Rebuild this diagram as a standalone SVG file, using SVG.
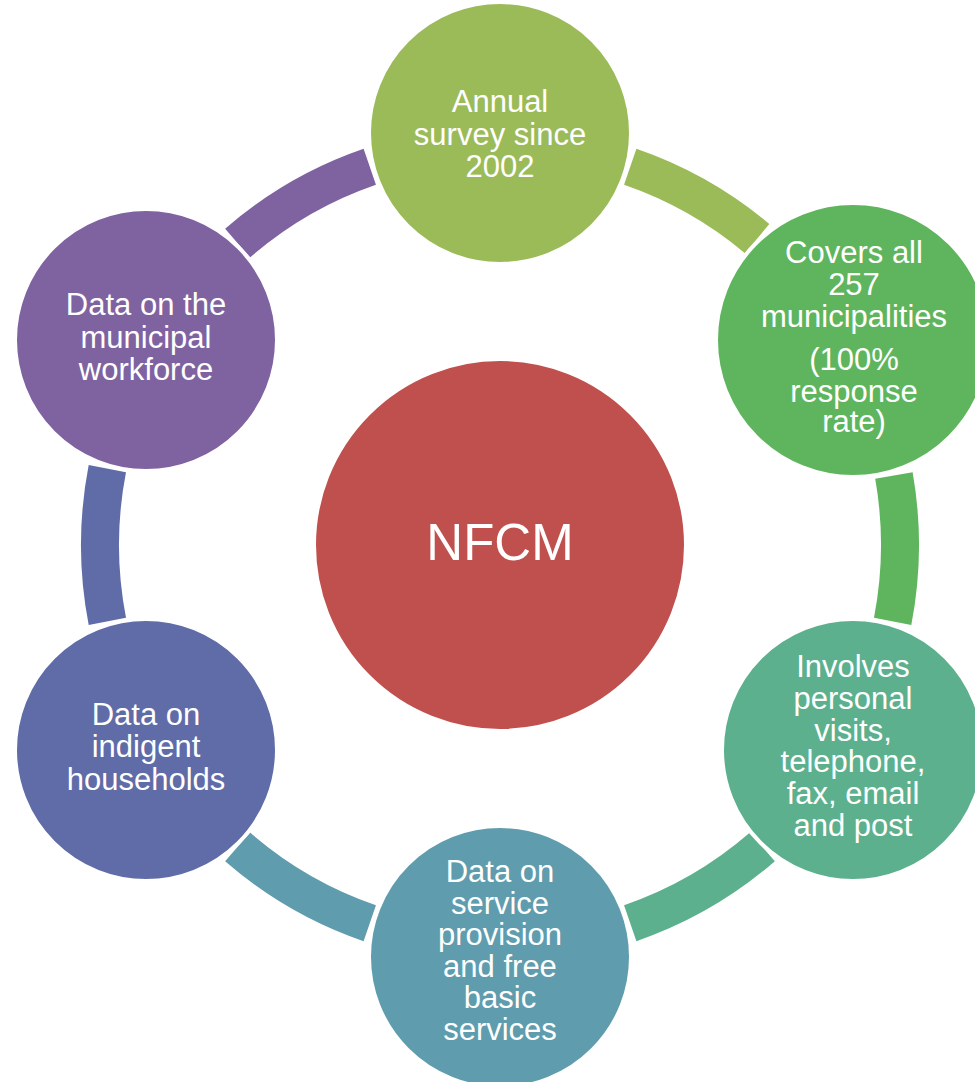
<svg xmlns="http://www.w3.org/2000/svg" width="975" height="1082" viewBox="0 0 975 1082">
<style>
.arc{fill:none;stroke-width:38;stroke-linecap:butt}
.node{stroke:#FFFFFF;stroke-width:4}
.t{font-family:"Liberation Sans",Arial,sans-serif;font-size:31px;fill:#FFFFFF;text-anchor:middle}
.big{font-family:"Liberation Sans",Arial,sans-serif;font-size:51px;fill:#FFFFFF;text-anchor:middle}
</style>
<rect width="975" height="1082" fill="#FFFFFF"/>
<g id="connectors">
<path class="arc" stroke="#9BBB59" d="M630.23 166.79 A400 400 0 0 1 757.12 238.58"/>
<path class="arc" stroke="#5FB55D" d="M893.92 475.54 A400 400 0 0 1 892.65 621.32"/>
<path class="arc" stroke="#5CB08E" d="M762.42 846.88 A400 400 0 0 1 630.23 923.21"/>
<path class="arc" stroke="#5F9CAD" d="M369.77 923.21 A400 400 0 0 1 237.58 846.88"/>
<path class="arc" stroke="#606CA7" d="M107.35 621.32 A400 400 0 0 1 107.35 468.68"/>
<path class="arc" stroke="#7F63A1" d="M237.58 243.12 A400 400 0 0 1 369.77 166.79"/>
</g>
<g id="center">
<circle class="node" cx="500" cy="545" r="186" fill="#C0504D"/>
<text class="big" x="500" y="559.5">NFCM</text>
</g>
<g id="n1">
<circle class="node" cx="500" cy="133" r="131" fill="#9BBB59"/>
<text class="t" x="500" y="112">Annual</text>
<text class="t" x="500" y="144.5">survey since</text>
<text class="t" x="500" y="177">2002</text>
</g>
<g id="n2">
<circle class="node" cx="853" cy="340" r="137" fill="#5FB55D"/>
<text class="t" x="854" y="263">Covers all</text>
<text class="t" x="854" y="295">257</text>
<text class="t" x="854" y="327">municipalities</text>
<text class="t" x="854" y="370">(100%</text>
<text class="t" x="854" y="401.5">response</text>
<text class="t" x="854" y="432">rate)</text>
</g>
<g id="n3">
<circle class="node" cx="853" cy="750" r="131" fill="#5CB08E"/>
<text class="t" x="853" y="677.3">Involves</text>
<text class="t" x="853" y="709">personal</text>
<text class="t" x="853" y="740.7">visits,</text>
<text class="t" x="853" y="772.4">telephone,</text>
<text class="t" x="853" y="804.1">fax, email</text>
<text class="t" x="853" y="835.8">and post</text>
</g>
<g id="n4">
<circle class="node" cx="500" cy="957" r="131" fill="#5F9CAD"/>
<text class="t" x="500" y="882.3">Data on</text>
<text class="t" x="500" y="913.8">service</text>
<text class="t" x="500" y="945.3">provision</text>
<text class="t" x="500" y="976.8">and free</text>
<text class="t" x="500" y="1008.3">basic</text>
<text class="t" x="500" y="1039.8">services</text>
</g>
<g id="n5">
<circle class="node" cx="146" cy="750" r="131" fill="#606CA7"/>
<text class="t" x="146" y="725">Data on</text>
<text class="t" x="146" y="757">indigent</text>
<text class="t" x="146" y="790">households</text>
</g>
<g id="n6">
<circle class="node" cx="146" cy="340" r="131" fill="#7F63A1"/>
<text class="t" x="146" y="315">Data on the</text>
<text class="t" x="146" y="347.5">municipal</text>
<text class="t" x="146" y="380">workforce</text>
</g>
</svg>
